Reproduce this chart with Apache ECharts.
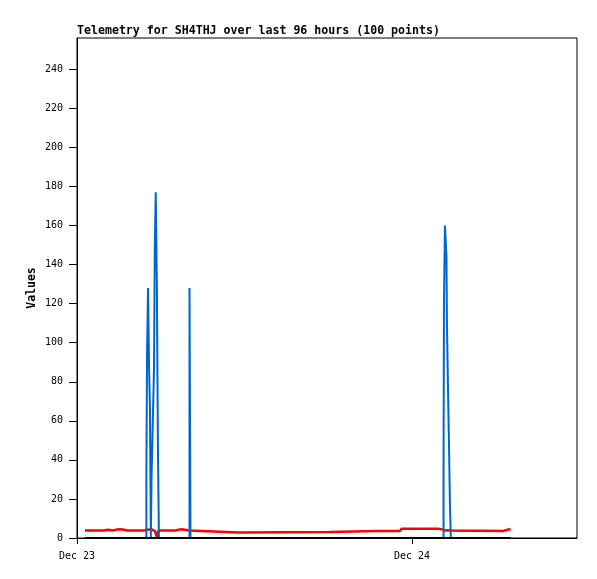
<!DOCTYPE html>
<html>
<head>
<meta charset="utf-8">
<script src="https://cdn.jsdelivr.net/npm/echarts@6/dist/echarts.min.js"></script>
<style>
html,body{margin:0;padding:0;background:#fff;}
#c{width:597px;height:579px;}
</style>
</head>
<body>
<div id="c"></div>
<script>
// Hours since Dec 23 00:00
var titleText = 'Telemetry for SH4THJ over last 96 hours (100 points)';
var xTickHours = [0, 24];
var xTickLabels = ['Dec 23', 'Dec 24'];
var xMaxHours = 35.82;
var yMax = 256;
var yTicks = [0, 20, 40, 60, 80, 100, 120, 140, 160, 180, 200, 220, 240];

var redHours = [0.57, 0.86, 0.97, 1.07, 1.93, 2.04, 2.22, 2.36, 2.56, 2.84, 3.12, 3.37, 3.58, 4.73, 4.87, 5.30, 5.44, 5.59, 5.71, 5.84, 5.98, 6.13, 7.02, 7.13, 7.49, 7.63, 8.06, 8.13, 11.53, 11.64, 18.13, 18.23, 21.42, 21.53, 21.64, 23.14, 23.25, 25.86, 26.00, 26.19, 26.36, 26.51, 26.65, 26.79, 26.90, 30.52, 30.63, 31.06];
var redValues = [3.8, 3.8, 4.4, 3.8, 3.8, 4.4, 4.2, 4.2, 3.8, 4.3, 4.5, 4.2, 3.8, 3.8, 4.5, 4.5, 4.0, 3.5, 0.5, 3.8, 4.6, 3.8, 3.8, 4.5, 4.5, 3.8, 3.8, 2.8, 2.8, 3.1, 3.1, 3.6, 3.6, 4.4, 3.6, 3.6, 4.8, 4.8, 5.6, 4.4, 3.8, 4.0, 4.6, 3.8, 3.6, 3.6, 4.6, 4.6];

// value holds from each hour onward (step)
var blueHours = [0.57, 4.97, 5.02, 5.09, 5.16, 5.23, 5.29, 5.34, 5.47, 5.52, 5.57, 5.64, 5.72, 5.80, 5.87, 8.06, 8.13, 26.26, 26.29, 26.36, 26.47, 26.50, 26.57, 26.65, 26.72, 26.78, 31.06];
var blueValues = [0, 32, 96, 128, 88, 65, 0, 31, 30, 88, 147, 177, 132, 44, 0, 128, 0, 40, 120, 160, 144, 112, 80, 48, 16, 0, 0];

var blackHours = [0.57, 31.06];
var blackValues = [0, 0];

function pairs(xs, ys) { return xs.map(function (x, i) { return [x, ys[i]]; }); }

var mono = 'DejaVu Sans Mono';
var chart = echarts.init(document.getElementById('c'), null, {renderer: 'canvas'});
chart.setOption({
  animation: false,
  backgroundColor: '#fff',
  title: {
    text: titleText, left: 77, top: 25, padding: 0,
    textStyle: {fontFamily: mono, fontWeight: 'bold', fontSize: 11.6, color: '#000'}
  },
  grid: {left: 77, right: 20, top: 38, bottom: 41, show: true, borderColor: '#000', borderWidth: 1, containLabel: false},
  xAxis: {
    type: 'value', min: 0, max: xMaxHours,
    axisLine: {show: true, lineStyle: {color: '#000', width: 1}},
    axisTick: {show: true, customValues: xTickHours, length: 6, inside: false, lineStyle: {color: '#000'}},
    axisLabel: {
      customValues: xTickHours, margin: 13, color: '#000', fontFamily: mono, fontSize: 10,
      formatter: function (v) { var i = xTickHours.indexOf(v); return i >= 0 ? xTickLabels[i] : ''; }
    },
    splitLine: {show: false}
  },
  yAxis: {
    type: 'value', min: 0, max: yMax,
    name: 'Values', nameLocation: 'middle', nameGap: 39, nameRotate: 90, nameMoveOverlap: false,
    nameTextStyle: {fontFamily: mono, fontWeight: 'bold', fontSize: 11.5, color: '#000'},
    axisLine: {show: true, lineStyle: {color: '#000', width: 1}},
    axisTick: {show: true, customValues: yTicks, length: 8, lineStyle: {color: '#000'}},
    axisLabel: {customValues: yTicks, margin: 14, color: '#000', fontFamily: mono, fontSize: 10},
    splitLine: {show: false}
  },
  series: [
    {type: 'line', data: pairs(redHours, redValues), symbol: 'none', z: 2,
     lineStyle: {color: '#ff0000', width: 2.5}},
    {type: 'line', step: 'end', data: pairs(blueHours, blueValues), symbol: 'none', z: 3,
     lineStyle: {color: '#0066cc', width: 2}},
    {type: 'line', data: pairs(blackHours, blackValues), symbol: 'none', z: 4,
     lineStyle: {color: '#000000', width: 2}}
  ]
});
</script>
</body>
</html>
